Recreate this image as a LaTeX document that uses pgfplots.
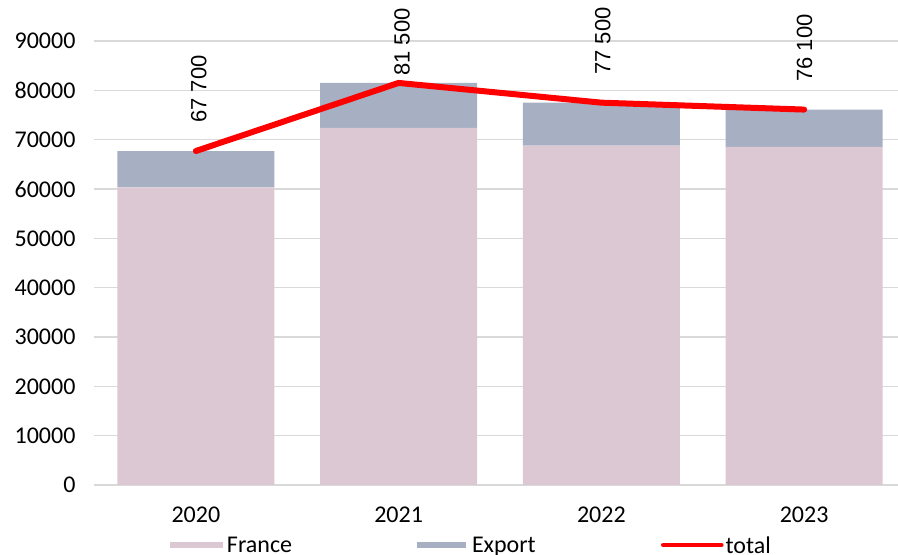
\documentclass[border=0pt]{standalone}
\usepackage{pgfplots}
\pgfplotsset{compat=1.18}
\usepackage{fontspec}
\setmainfont{Carlito}
\newfontfamily\labfont{Liberation Sans}
\definecolor{franceC}{RGB}{220,200,211}
\definecolor{exportC}{RGB}{166,176,194}
\definecolor{gridC}{RGB}{217,217,217}
\begin{document}
\begin{tikzpicture}
\begin{axis}[
  at={(0,0)}, anchor=south west,
  scale only axis, width=405.5pt, height=222pt,
  xmin=-0.5, xmax=3.5, ymin=0, ymax=90000,
  ybar stacked, bar width=78.5pt,
  xtick={0,1,2,3}, xticklabels={2020,2021,2022,2023},
  ytick={0,10000,20000,30000,40000,50000,60000,70000,80000,90000},
  scaled y ticks=false,
  /pgf/number format/assume math mode=true,
  yticklabel style={/pgf/number format/fixed, /pgf/number format/1000 sep={}, xshift=-6pt},
  xticklabel style={yshift=-7.5pt},
  tick label style={font=\fontsize{12}{14}\selectfont},
  major tick length=0pt,
  axis line style={draw=none},
  ymajorgrids, xmajorgrids=false,
  major grid style={gridC, line width=0.7pt},
  legend columns=3,
  legend cell align=left,
  legend style={at={(axis description cs:0.0931,-0.1351)}, anchor=west,
    draw=none, fill=none, inner sep=0pt, outer sep=0pt,
    nodes={inner sep=0pt, text depth=0pt},
    font=\fontsize{12}{14}\selectfont},
]
\addplot[fill=franceC, draw=none,
  legend image code/.code={\fill[franceC] (0pt,-1.7pt) rectangle (26.5pt,1.7pt);}]
  coordinates {(0,60350) (1,72400) (2,68800) (3,68550)};
\addlegendentry{\makebox[97pt][l]{\hspace{2pt}France}}
\addplot[fill=exportC, draw=none,
  legend image code/.code={\fill[exportC] (0pt,-1.7pt) rectangle (24.5pt,1.7pt);}]
  coordinates {(0,7350) (1,9100) (2,8700) (3,7550)};
\addlegendentry{\makebox[97.5pt][l]{\hspace{3pt}Export}}
\addlegendimage{legend image code/.code={\draw[red, line width=2.3pt, line cap=round] (0pt,0pt) -- (29pt,0pt);}}
\addlegendentry{\hspace{1pt}total}
\end{axis}
\begin{axis}[
  at={(0,0)}, anchor=south west,
  scale only axis, width=405.5pt, height=222pt,
  xmin=-0.5, xmax=3.5, ymin=0, ymax=90000,
  hide axis, clip=false,
]
\addplot[red, line width=3pt, line cap=round, line join=round, mark=none]
  coordinates {(0,67700) (1,81500) (2,77500) (3,76100)};
\node[rotate=90, anchor=west, inner sep=0pt, font=\labfont\fontsize{11}{13}\selectfont] at (axis cs:0.015,73380) {67 700};
\node[rotate=90, anchor=west, inner sep=0pt, font=\labfont\fontsize{11}{13}\selectfont] at (axis cs:1.017,82910) {81 500};
\node[rotate=90, anchor=west, inner sep=0pt, font=\labfont\fontsize{11}{13}\selectfont] at (axis cs:2.007,83110) {77 500};
\node[rotate=90, anchor=west, inner sep=0pt, font=\labfont\fontsize{11}{13}\selectfont] at (axis cs:3.002,81690) {76 100};
\end{axis}
\pgfresetboundingbox
\path[use as bounding box] (-47.25pt,-35pt) rectangle (401.75pt,242.5pt);
\end{tikzpicture}
\end{document}
